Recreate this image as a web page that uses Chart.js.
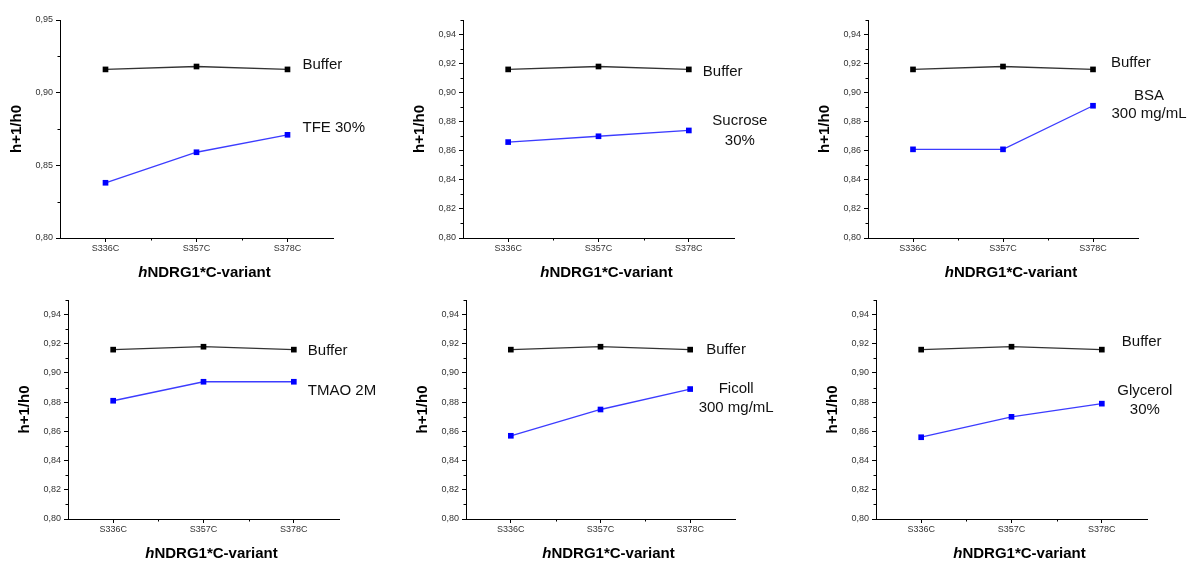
<!DOCTYPE html>
<html>
<head>
<meta charset="utf-8">
<script src="https://cdn.jsdelivr.net/npm/chart.js@4.4.1/dist/chart.umd.min.js"></script>
<style>
  html, body { margin: 0; padding: 0; background: #fff; }
  #wrap { position: relative; width: 1189px; height: 561px; overflow: hidden; }
  #wrap canvas { position: absolute; }
</style>
</head>
<body>
<div id="wrap"></div>
<script>
// hNDRG1*C variants, h+1/h0 ratio per condition
const variants = ['S336C', 'S357C', 'S378C'];
const buffer   = [0.916, 0.918, 0.916];
const tfe      = [0.838, 0.859, 0.871];
const sucrose  = [0.866, 0.870, 0.874];
const bsa      = [0.861, 0.861, 0.891];
const tmao     = [0.881, 0.894, 0.894];
const ficoll   = [0.857, 0.875, 0.889];
const glycerol = [0.856, 0.870, 0.879];

// y ticks (major + minor)
const yTicksCoarse = [0.80, 0.85, 0.90, 0.95];
const yMinorCoarse = [0.825, 0.875, 0.925];
const yTicksFine = [0.80, 0.82, 0.84, 0.86, 0.88, 0.90, 0.92, 0.94];
const yMinorFine = [0.81, 0.83, 0.85, 0.87, 0.89, 0.91, 0.93, 0.95];

const FONT = "'Liberation Sans', Arial, Helvetica, sans-serif";
const Y_W = 50;   // fixed y-scale width
const X_H = 30;   // fixed x-scale height

// canvas box [x, y, w, h] and plot area [left, top, right, bottom] in page pixels
const panels = [
  { box: [0, 0, 400, 285],   area: [60, 20, 333, 238],   values: tfe,      ticks: yTicksCoarse, minor: yMinorCoarse,
    bufLabel: { dx: 15, dy: -5 }, label: { lines: ['TFE 30%'], dx: 15, dy: -7, align: 'left' } },
  { box: [400, 0, 390, 285], area: [463, 20, 734, 238],  values: sucrose,  ticks: yTicksFine, minor: yMinorFine,
    bufLabel: { dx: 14, dy: 2 }, label: { lines: ['Sucrose', '30%'], dx: 51, dy: -10, lh: 20, align: 'center' } },
  { box: [790, 0, 399, 285], area: [868, 20, 1138, 238], values: bsa,      ticks: yTicksFine, minor: yMinorFine,
    bufLabel: { dx: 18, dy: -7 }, label: { lines: ['BSA', '300 mg/mL'], dx: 56, dy: -10, lh: 18, align: 'center' } },
  { box: [0, 285, 400, 276],   area: [68, 300, 339, 519],   values: tmao,     ticks: yTicksFine, minor: yMinorFine,
    bufLabel: { dx: 14, dy: 1 }, label: { lines: ['TMAO 2M'], dx: 14, dy: 9, align: 'left' } },
  { box: [400, 285, 390, 276], area: [466, 300, 735, 519],  values: ficoll,   ticks: yTicksFine, minor: yMinorFine,
    bufLabel: { dx: 16, dy: 0 }, label: { lines: ['Ficoll', '300 mg/mL'], dx: 46, dy: 0, lh: 19, align: 'center' } },
  { box: [790, 285, 399, 276], area: [876, 300, 1147, 519], values: glycerol, ticks: yTicksFine, minor: yMinorFine,
    bufLabel: { dx: 20, dy: -8 }, label: { lines: ['Glycerol', '30%'], dx: 43, dy: -13, lh: 19, align: 'center' } }
];

const fmt = v => v.toFixed(2).replace('.', ',');

// minor ticks, curve labels and axis titles
const decorations = {
  id: 'decorations',
  afterDraw(chart, args, opts) {
    const { ctx, chartArea: a, scales: { x, y } } = chart;
    const p = opts.panel;
    ctx.save();

    // minor ticks
    ctx.strokeStyle = '#000';
    ctx.lineWidth = 1;
    ctx.beginPath();
    p.minor.forEach(v => {
      const py = Math.round(y.getPixelForValue(v)) + 0.5;
      ctx.moveTo(a.left, py); ctx.lineTo(a.left - 2.5, py);
    });
    [0.5, 1.5].forEach(v => {
      const px = Math.round(x.getPixelForValue(v)) + 0.5;
      ctx.moveTo(px, a.bottom); ctx.lineTo(px, a.bottom + 2.5);
    });
    ctx.stroke();

    // curve labels next to the last point of each series
    ctx.fillStyle = '#111';
    ctx.font = '15px ' + FONT;
    ctx.textBaseline = 'middle';
    const last = variants.length - 1;
    const drawLabel = (meta, lab) => {
      const pt = meta.data[last];
      ctx.textAlign = lab.align || 'left';
      (lab.lines || ['Buffer']).forEach((t, i) => {
        ctx.fillText(t, pt.x + lab.dx, pt.y + lab.dy + i * (lab.lh || 0));
      });
    };
    drawLabel(chart.getDatasetMeta(0), p.bufLabel);
    drawLabel(chart.getDatasetMeta(1), p.label);

    // y title
    ctx.save();
    ctx.translate(a.left - 43, (a.top + a.bottom) / 2);
    ctx.rotate(-Math.PI / 2);
    ctx.textAlign = 'center';
    ctx.font = 'bold 15px ' + FONT;
    ctx.fillStyle = '#000';
    ctx.fillText('h+1/h0', 0, 0);
    ctx.restore();

    // x title: italic "h" + bold rest
    const fItal = 'italic bold 15px ' + FONT;
    const fBold = 'bold 15px ' + FONT;
    ctx.font = fItal; const w1 = ctx.measureText('h').width;
    ctx.font = fBold; const w2 = ctx.measureText('NDRG1*C-variant').width;
    let tx = (a.left + a.right) / 2 + 8 - (w1 + w2) / 2;
    const ty = a.bottom + 35;
    ctx.textAlign = 'left';
    ctx.fillStyle = '#000';
    ctx.font = fItal; ctx.fillText('h', tx, ty);
    ctx.font = fBold; ctx.fillText('NDRG1*C-variant', tx + w1, ty);

    ctx.restore();
  }
};

const wrap = document.getElementById('wrap');

panels.forEach(p => {
  const [bx, by, bw, bh] = p.box;
  const [l, t, r, b] = p.area;
  const canvas = document.createElement('canvas');
  canvas.width = bw; canvas.height = bh;
  canvas.style.left = bx + 'px'; canvas.style.top = by + 'px';
  canvas.style.width = bw + 'px'; canvas.style.height = bh + 'px';
  wrap.appendChild(canvas);

  new Chart(canvas.getContext('2d'), {
    type: 'line',
    data: {
      labels: variants,
      datasets: [
        {
          data: buffer,
          borderColor: '#333',
          borderWidth: 1.3,
          pointStyle: 'rect',
          pointRadius: 4,
          pointBorderWidth: 0,
          pointBackgroundColor: '#000',
          tension: 0
        },
        {
          data: p.values,
          borderColor: '#3c3cff',
          borderWidth: 1.3,
          pointStyle: 'rect',
          pointRadius: 4,
          pointBorderWidth: 0,
          pointBackgroundColor: '#0000ff',
          tension: 0
        }
      ]
    },
    options: {
      responsive: false,
      animation: false,
      layout: {
        padding: { left: l - bx - Y_W, right: bx + bw - r, top: t - by, bottom: by + bh - b - X_H }
      },
      scales: {
        x: {
          offset: true,
          grid: { display: true, drawOnChartArea: false, drawTicks: true, tickLength: 4, color: '#000', offset: false },
          border: { display: true, color: '#000', width: 1 },
          ticks: { color: '#333', font: { family: FONT, size: 9 }, padding: 1, maxRotation: 0 },
          afterFit: s => { s.height = X_H; }
        },
        y: {
          min: 0.80,
          max: 0.95,
          grid: { display: true, drawOnChartArea: false, drawTicks: true, tickLength: 4, color: '#000' },
          border: { display: true, color: '#000', width: 1 },
          ticks: { color: '#333', font: { family: FONT, size: 9 }, padding: 3, callback: v => fmt(v) },
          afterBuildTicks: s => { s.ticks = p.ticks.map(v => ({ value: v })); },
          afterFit: s => { s.width = Y_W; }
        }
      },
      plugins: {
        legend: { display: false },
        tooltip: { enabled: false },
        decorations: { panel: p }
      }
    },
    plugins: [decorations]
  });
});
</script>
</body>
</html>
